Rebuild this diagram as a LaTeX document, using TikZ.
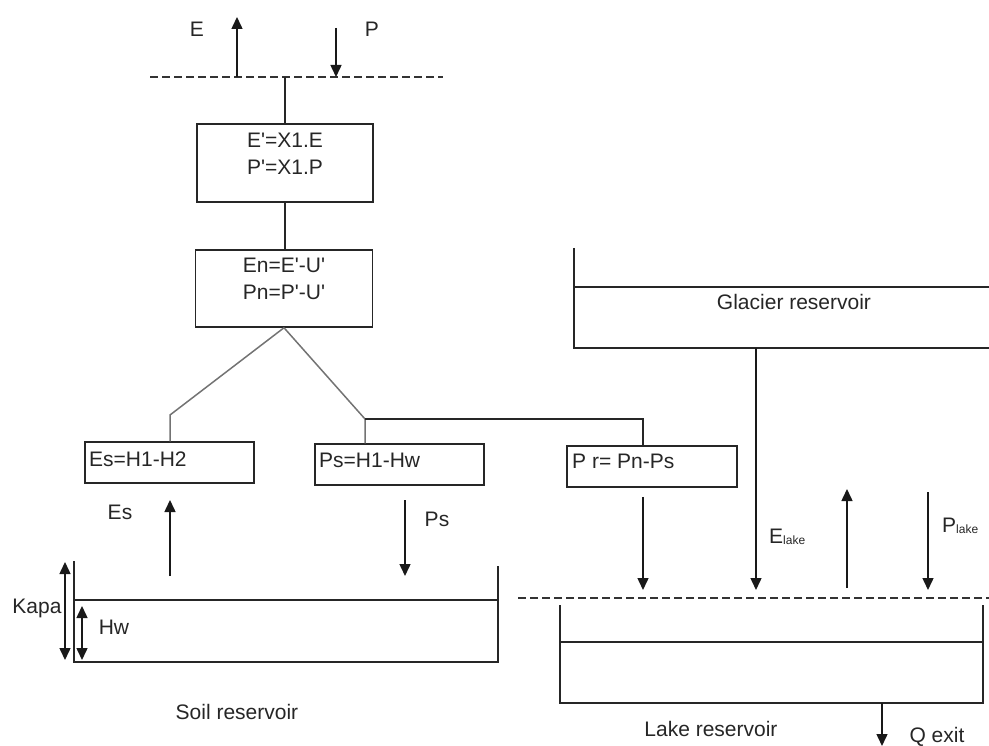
\documentclass[tikz,border=0pt]{standalone}
\usepackage{fontspec}
\newfontfamily\lib{Liberation Sans}
\usetikzlibrary{arrows.meta}
\begin{document}
\begin{tikzpicture}[x=1pt,y=-1pt,
  every node/.style={font=\lib\fontsize{21}{27}\selectfont, inner sep=0pt, text=black!85},
  ln/.style={draw=black!85, line width=1.5pt},
  gln/.style={draw=black!55, line width=1.5pt},
  dsh/.style={draw=black!80, line width=1.5pt, dash pattern=on 8pt off 4pt},
  arr/.style={draw=black!90, line width=1.5pt, -{Triangle[width=11pt,length=12pt]}},
  darr/.style={draw=black!90, line width=1.5pt, {Triangle[width=11pt,length=12pt]}-{Triangle[width=11pt,length=12pt]}},
  box/.style={draw=black!85, line width=1.5pt, rectangle, fill=none},
  sub/.style={font=\lib\fontsize{11}{11}\selectfont}
]
\useasboundingbox (0,0) rectangle (989,746);

% top water line
\coordinate (dl) at (150,77);
\coordinate (dr) at (443,77);
\draw[dsh] (dl) -- (dr);
\coordinate (eb) at (237,77);
\coordinate (et) at (237,17);
\draw[arr] (eb) -- (et);
\coordinate (pt) at (336,28);
\coordinate (pb) at (336,77);
\draw[arr] (pt) -- (pb);
\node (lE) at (197,29) {E};
\node (lP) at (372,29) {P};

% boxes
\node[box, minimum width=176pt, minimum height=78pt] (b1) at (285,163) {};
\node[align=center] (b1t) at (285,154) {E'=X1.E\\P'=X1.P};
\node[box, minimum width=177pt, minimum height=77pt] (b2) at (284,288.5) {};
\node[align=center] (b2t) at (284,278.5) {En=E'-U'\\Pn=P'-U'};
\coordinate (dtop) at (285,77);
\draw[ln] (dtop) -- (b1.north);
\draw[ln] (b1.south) -- (b1.south |- b2.north);

\node[box, minimum width=169pt, minimum height=41pt] (es) at (169.5,462.5) {};
\node[anchor=west] (est) at (89,459) {Es=H1-H2};
\node[box, minimum width=169pt, minimum height=41pt] (ps) at (399.5,464.5) {};
\node[anchor=west] (pst) at (319,460) {Ps=H1-Hw};
\node[box, minimum width=170pt, minimum height=41pt] (pr) at (652,466.5) {};
\node[anchor=west] (prt) at (572,461) {P r= Pn-Ps};

% tree
\coordinate (jl) at (170,415);
\coordinate (jr) at (365,419);
\coordinate (jp) at (643,419);
\draw[gln] (b2.south) -- (jl) -- (jl |- es.north);
\draw[gln] (b2.south) -- (jr) -- (jr |- ps.north);
\draw[ln] (jr) -- (jp) -- (jp |- pr.north);

% flows to soil
\coordinate (esb) at (170,576);
\coordinate (est2) at (170,500);
\draw[arr] (esb) -- (est2);
\node (lEs) at (120,512) {Es};
\coordinate (psa) at (405,500);
\coordinate (psb) at (405,576);
\draw[arr] (psa) -- (psb);
\node (lPs) at (437,519) {Ps};

% soil reservoir
\draw[ln] (74,561) -- (74,662) -- (498,662) -- (498,566);
\draw[ln] (74,600) -- (498,600);
\coordinate (ka) at (65,562);
\coordinate (kb) at (65,660);
\draw[darr] (ka) -- (kb);
\coordinate (ha) at (82,606);
\coordinate (hb) at (82,660);
\draw[darr] (ha) -- (hb);
\node (lKapa) at (37,608) {Kapa};
\node (lHw) at (114,627) {Hw};
\node (lSoil) at (237,712) {Soil reservoir};

% glacier reservoir
\draw[ln] (574,248) -- (574,348) -- (989,348);
\draw[ln] (574,287) -- (989,287);
\node (lGl) at (794,302) {Glacier reservoir};

% lake
\draw[dsh] (518,598) -- (989,598);
\draw[ln] (560,605) -- (560,703) -- (983,703) -- (983,605);
\draw[ln] (560,642) -- (983,642);
\node (lLake) at (711,729) {Lake reservoir};

\coordinate (pra) at (643,496);
\coordinate (prb) at (643,590);
\draw[arr] (pr.south -| pra) ++(0,9) -- (prb);
\coordinate (ga) at (756,348);
\coordinate (gb) at (756,590);
\draw[arr] (ga) -- (gb);
\node[anchor=west] (lEl) at (769,537) {E\raisebox{-1pt}{\lib\fontsize{12}{12}\selectfont lake}};
\coordinate (eua) at (847,588);
\coordinate (eub) at (847,489);
\draw[arr] (eua) -- (eub);
\coordinate (pla) at (928,492);
\coordinate (plb) at (928,590);
\draw[arr] (pla) -- (plb);
\node[anchor=west] (lPl) at (942,526) {P\raisebox{-1pt}{\lib\fontsize{12}{12}\selectfont lake}};

\coordinate (qa) at (882,703);
\coordinate (qb) at (882,746);
\draw[arr] (qa) -- (qb);
\node (lQ) at (937,737) {Q exit};
\end{tikzpicture}
\end{document}
